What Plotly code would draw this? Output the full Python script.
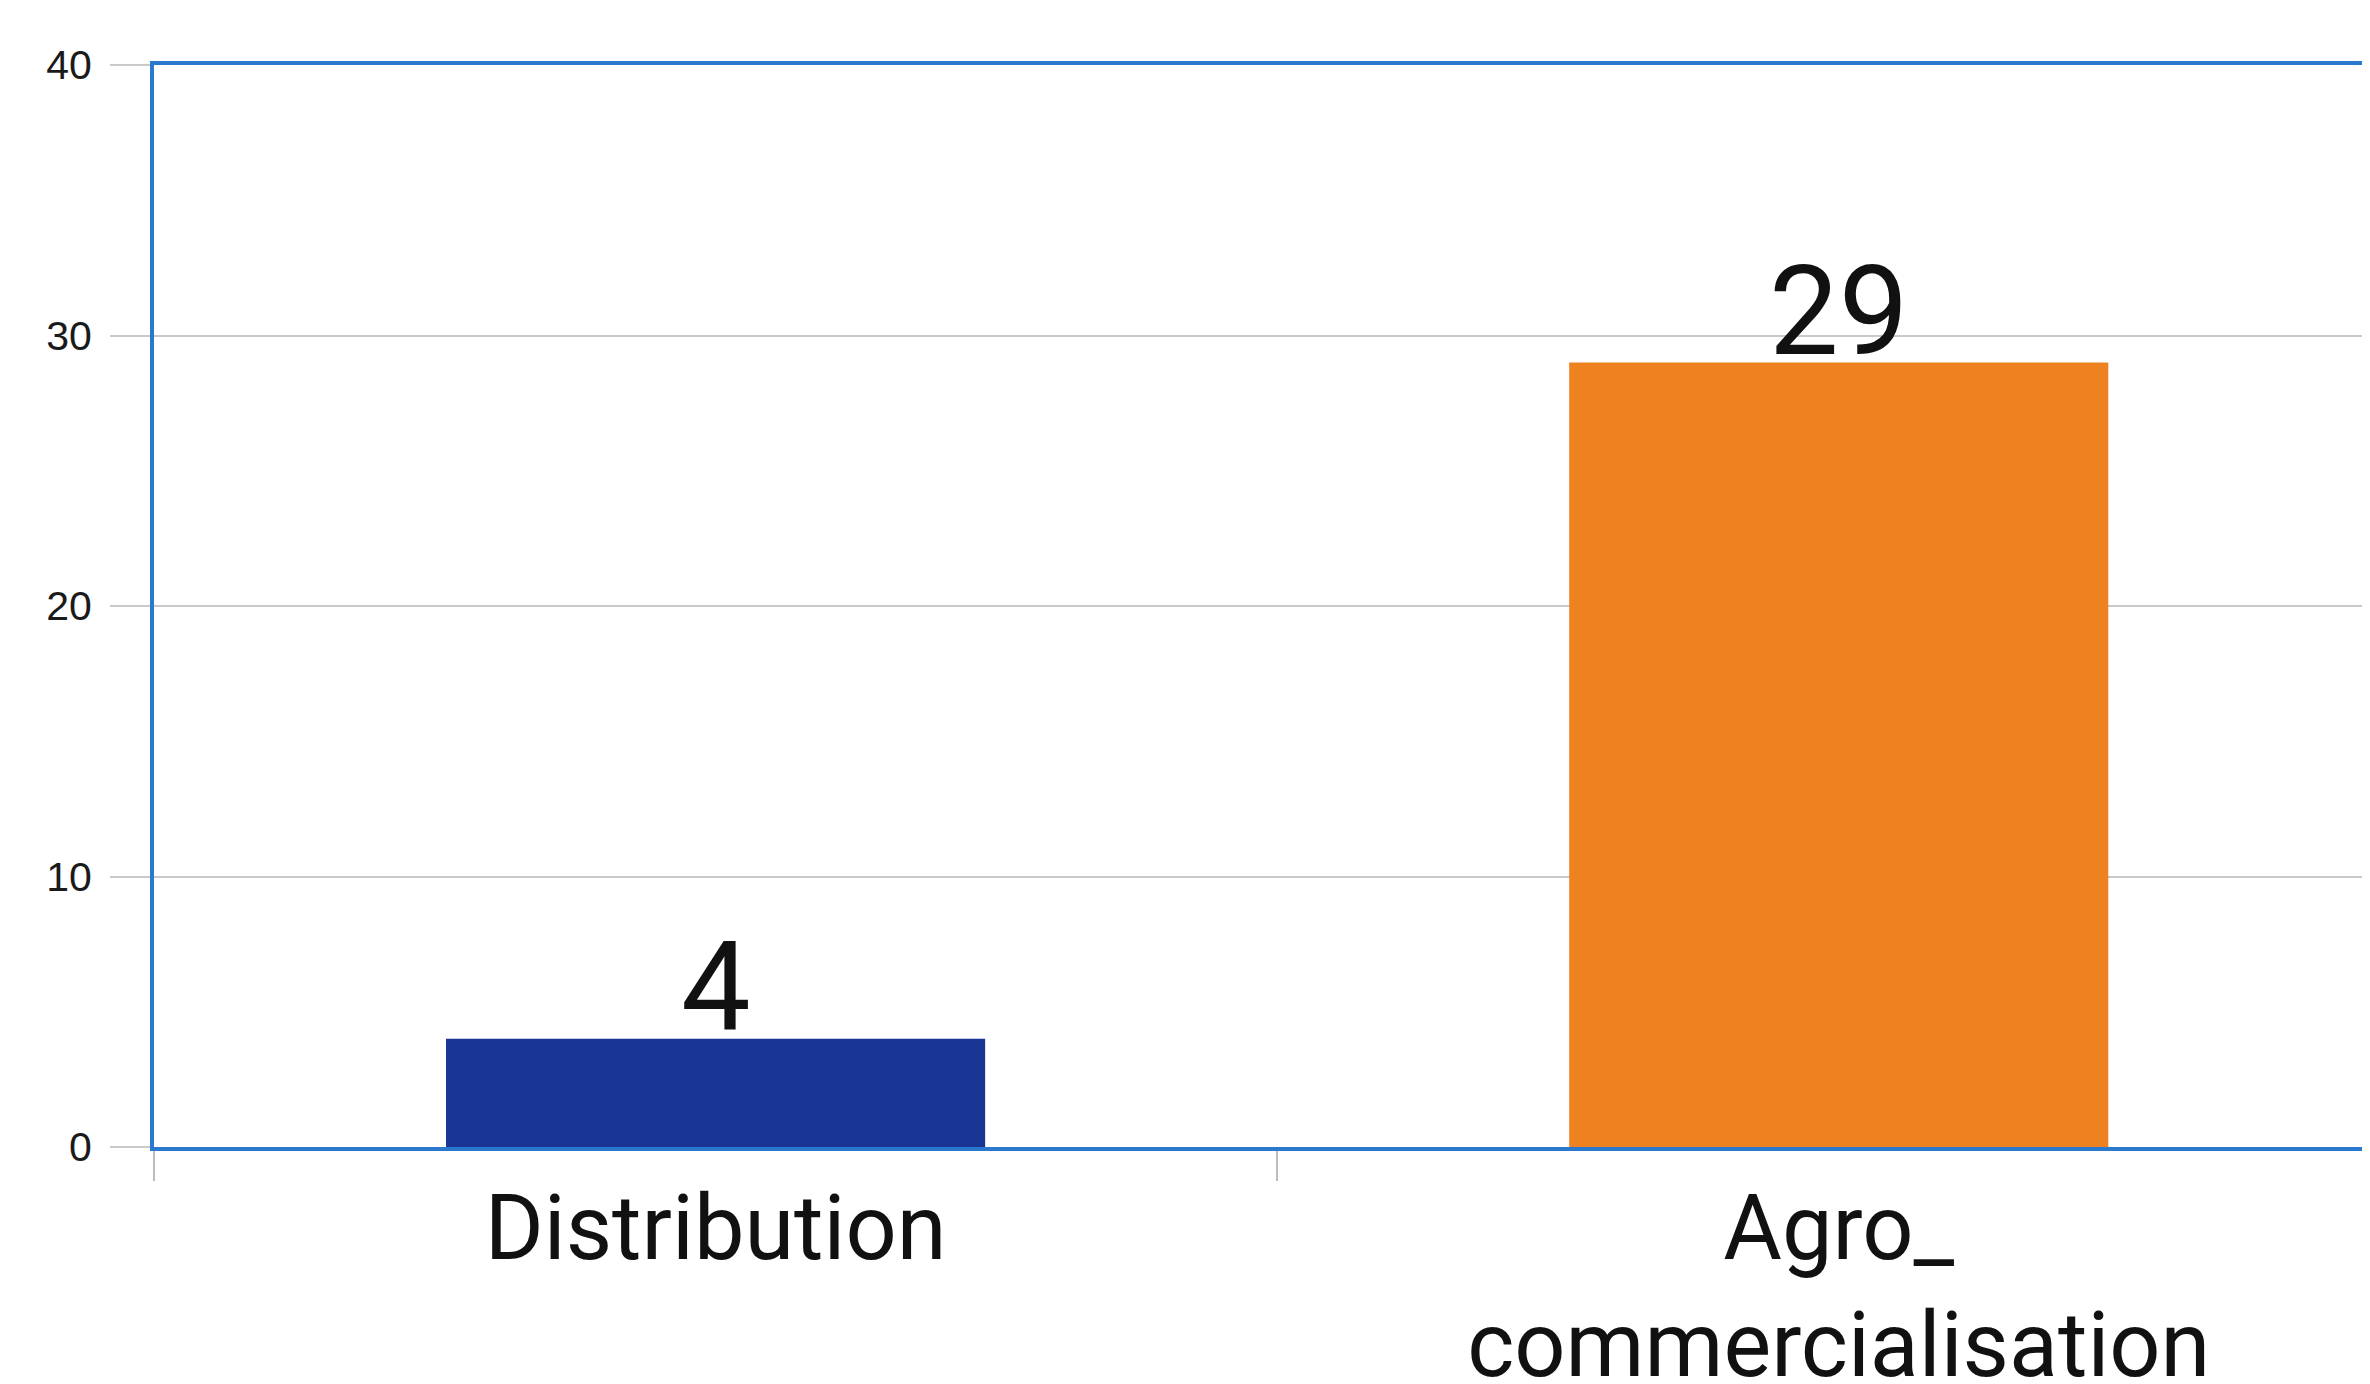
import plotly.graph_objects as go

categories = ["Distribution", "Agro_<br>commercialisation"]
values = [4, 29]
bar_colors = ["#183594", "#ee8120"]
y_ticks = [0, 10, 20, 30, 40]

frame_blue = "#2b78cf"

fig = go.Figure()
fig.add_trace(go.Bar(
    x=categories, y=values,
    marker=dict(color=bar_colors, line=dict(width=0)),
    cliponaxis=False,
))

# value labels sit just on top of each bar
for cat, val in zip(categories, values):
    fig.add_annotation(
        x=cat, y=val, text=str(val),
        showarrow=False, yanchor="bottom", yshift=-23,
        font=dict(family="Roboto, sans-serif", size=124, color="#111111"),
    )

# page body adds an 8px margin, so the figure is 8px smaller than the window
fig.update_layout(
    width=2362, height=1376,
    margin=dict(l=146, r=0, t=57, b=237),
    paper_bgcolor="white", plot_bgcolor="white",
    bargap=0.52,
    showlegend=False,
    font=dict(family="Roboto, sans-serif", color="#111111"),
)
fig.update_xaxes(
    type="category", automargin=False,
    range=[-0.5, 1.473],
    showline=True, linecolor=frame_blue, linewidth=4, mirror=True,
    ticks="outside", tickson="boundaries", ticklen=30, tickwidth=2, tickcolor="#bdbdbd",
    tickfont=dict(family="Roboto, sans-serif", size=90, color="#111111"),
    showgrid=False,
)
fig.update_yaxes(
    range=[0, 40], tickvals=y_ticks, automargin=False,
    showline=True, linecolor=frame_blue, linewidth=4, mirror=False,
    showgrid=True, gridcolor="#c9c9c9", gridwidth=2,
    ticks="outside", ticklen=40, tickwidth=2, tickcolor="#c9c9c9",
    ticklabelstandoff=10,
    tickfont=dict(family="Liberation Sans, Arial, sans-serif", size=41, color="#1a1a1a"),
    zeroline=False,
)

fig.write_html("out.html")
